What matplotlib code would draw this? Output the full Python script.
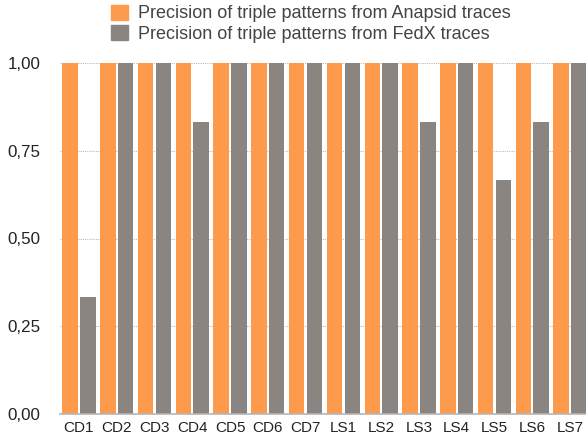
import numpy as np
import matplotlib.pyplot as plt
from matplotlib.patches import Patch
from matplotlib.ticker import FuncFormatter

plt.rcParams['font.family'] = ['Liberation Sans', 'DejaVu Sans']

queries = ['CD1', 'CD2', 'CD3', 'CD4', 'CD5', 'CD6', 'CD7',
           'LS1', 'LS2', 'LS3', 'LS4', 'LS5', 'LS6', 'LS7']
anapsid = [1, 1, 1, 1, 1, 1, 1, 1, 1, 1, 1, 1, 1, 1]
fedx = [0.333, 1, 1, 0.833, 1, 1, 1, 1, 1, 0.833, 1, 0.667, 0.833, 1]
labels = ['Precision of triple patterns from Anapsid traces',
          'Precision of triple patterns from FedX traces']

ORANGE = '#fe9a4c'
GREY = '#8a8580'

fig = plt.figure(figsize=(5.86, 4.43), dpi=100)
# the plot runs a bit past the right edge, as in the original
ax = fig.add_axes([60 / 586, 1 - 414 / 443, 529 / 586, 351 / 443])

x = np.arange(len(queries))
w = 0.41
ax.bar(x - 0.235, anapsid, w, color=ORANGE, zorder=3)
ax.bar(x + 0.235, fedx, w, color=GREY, zorder=3)

ax.set_xlim(-0.5, len(queries) - 0.5)
ax.set_ylim(0, 1)
ax.set_yticks([0, 0.25, 0.5, 0.75, 1.0])
ax.yaxis.set_major_formatter(FuncFormatter(lambda v, p: f'{v:.2f}'.replace('.', ',')))
ax.set_xticks(x)
ax.set_xticklabels(queries)
ax.tick_params(length=0, colors='#222222')
ax.tick_params(axis='y', pad=14, labelsize=12.2)
ax.tick_params(axis='x', pad=5, labelsize=11)

ax.grid(axis='y', color='#bbbbbb', linestyle=(0, (1, 1)), linewidth=0.8, zorder=0)
for s in ['top', 'right', 'left']:
    ax.spines[s].set_visible(False)
ax.spines['bottom'].set_color('#b5b5b5')
ax.spines['bottom'].set_linewidth(1.2)
ax.spines['bottom'].set_zorder(4)

handles = [Patch(color=ORANGE), Patch(color=GREY)]
fig.legend(handles, labels, loc='upper left', bbox_to_anchor=(95 / 586, 1.026),
           frameon=False, fontsize=13, handlelength=0.9, handleheight=0.9,
           handletextpad=0.6, labelspacing=0.15, labelcolor='#444444')

fig.savefig('out.png', dpi=100)
